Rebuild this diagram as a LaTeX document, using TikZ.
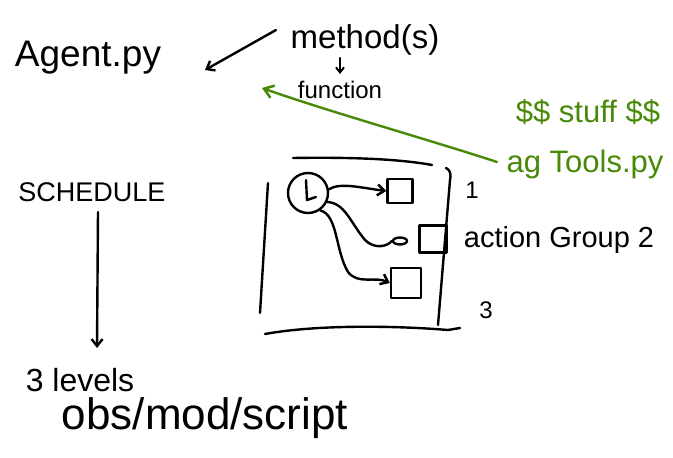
\documentclass[tikz,border=0pt]{standalone}
\usepackage{fontspec}
\setmainfont{Liberation Sans}
\usetikzlibrary{arrows.meta,shapes.geometric}
\definecolor{pengreen}{RGB}{72,138,8}
\begin{document}
\begin{tikzpicture}[x=1pt,y=-1pt,line width=2.4pt,line cap=round,line join=round,
  txt/.style={inner sep=1pt,anchor=center},
  barb/.style={-{Straight Barb[length=7pt,width=11pt,line width=2.4pt]}},
  gbarb/.style={-{Straight Barb[length=9pt,width=13pt,line width=2.6pt]}},
  smallbox/.style={draw,rectangle,inner sep=0pt,line width=2.4pt},
  srccircle/.style={draw,circle,minimum size=40pt,inner sep=0pt,line width=2.4pt}]
\useasboundingbox (0,0) rectangle (673,458);

% texts
\node[txt,font=\fontsize{37}{40}\selectfont] (agent) at (88,58) {Agent.py};
\node[txt,font=\fontsize{33}{36}\selectfont] (meth) at (365,40) {method(s)};
\node[txt,font=\fontsize{24}{26}\selectfont] (func) at (340,90) {function};
\node[txt,text=pengreen,font=\fontsize{31}{34}\selectfont] (stuff) at (588,112) {\$\$ stuff \$\$};
\node[txt,text=pengreen,font=\fontsize{31}{34}\selectfont] (tools) at (585,164) {ag Tools.py};
\node[txt,font=\fontsize{27}{30}\selectfont] (sched) at (92,192) {SCHEDULE};
\node[txt,font=\fontsize{32}{34}\selectfont] (levels) at (80,380) {3 levels};
\node[txt,font=\fontsize{44}{46}\selectfont] (obs) at (205,418) {obs/mod/script};
\node[txt,font=\fontsize{24}{26}\selectfont] (one) at (472,190) {1};
\node[txt,font=\fontsize{29}{32}\selectfont] (grp) at (559,240) {action Group 2};
\node[txt,font=\fontsize{24}{26}\selectfont] (three) at (486,310) {3};

% arrows among texts
\coordinate (mstart) at (276,30);
\coordinate (atip) at (205,70);
\draw[barb] (mstart) -- (atip);
\coordinate (mfrom) at (340,58);
\coordinate (mto) at (340,74);
\draw[-{Straight Barb[length=5pt,width=8pt,line width=2pt]}] (mfrom) -- (mto);
\coordinate (gstart) at (497,162);
\coordinate (gtip) at (262,88);
\draw[pengreen,gbarb] (gstart) .. controls (430,140) and (330,112) .. (gtip);
\coordinate (sfrom) at (98,212);
\coordinate (sto) at (97,348);
\draw[barb] (sfrom) -- (sto);

% group frame
\draw (293,158) .. controls (350,157) and (400,159) .. (432,165);
\draw (268,183) -- (260,313);
\draw (446,168) .. controls (451,170) and (451,176) .. (450,180) -- (438,325);
\draw (265,334) .. controls (320,324) and (400,326) .. (448,330) -- (460,328);

% inner nodes
\node[srccircle] (src) at (308,193) {};
\draw (306,180) -- (307,200) -- (316,197);
\node[smallbox,minimum width=25pt,minimum height=24pt] (b1) at (400,191) {};
\node[smallbox,minimum width=27pt,minimum height=27pt] (b2) at (433,239) {};
\node[smallbox,minimum width=30pt,minimum height=30pt] (b3) at (406,283) {};
\node[draw,ellipse,minimum width=14pt,minimum height=7pt,inner sep=0pt,line width=2.4pt] (dot) at (400,241) {};

% connectors
\draw[barb] (src.10) .. controls (340,182) and (362,188) .. (b1.west);
\draw (src.-25) .. controls (345,203) and (350,222) .. (365,240) .. controls (375,250) and (388,246) .. (dot.west);
\draw[barb] (src.-55) .. controls (338,215) and (335,250) .. (348,272) .. controls (358,285) and (375,276) .. (b3.west);
\end{tikzpicture}
\end{document}
